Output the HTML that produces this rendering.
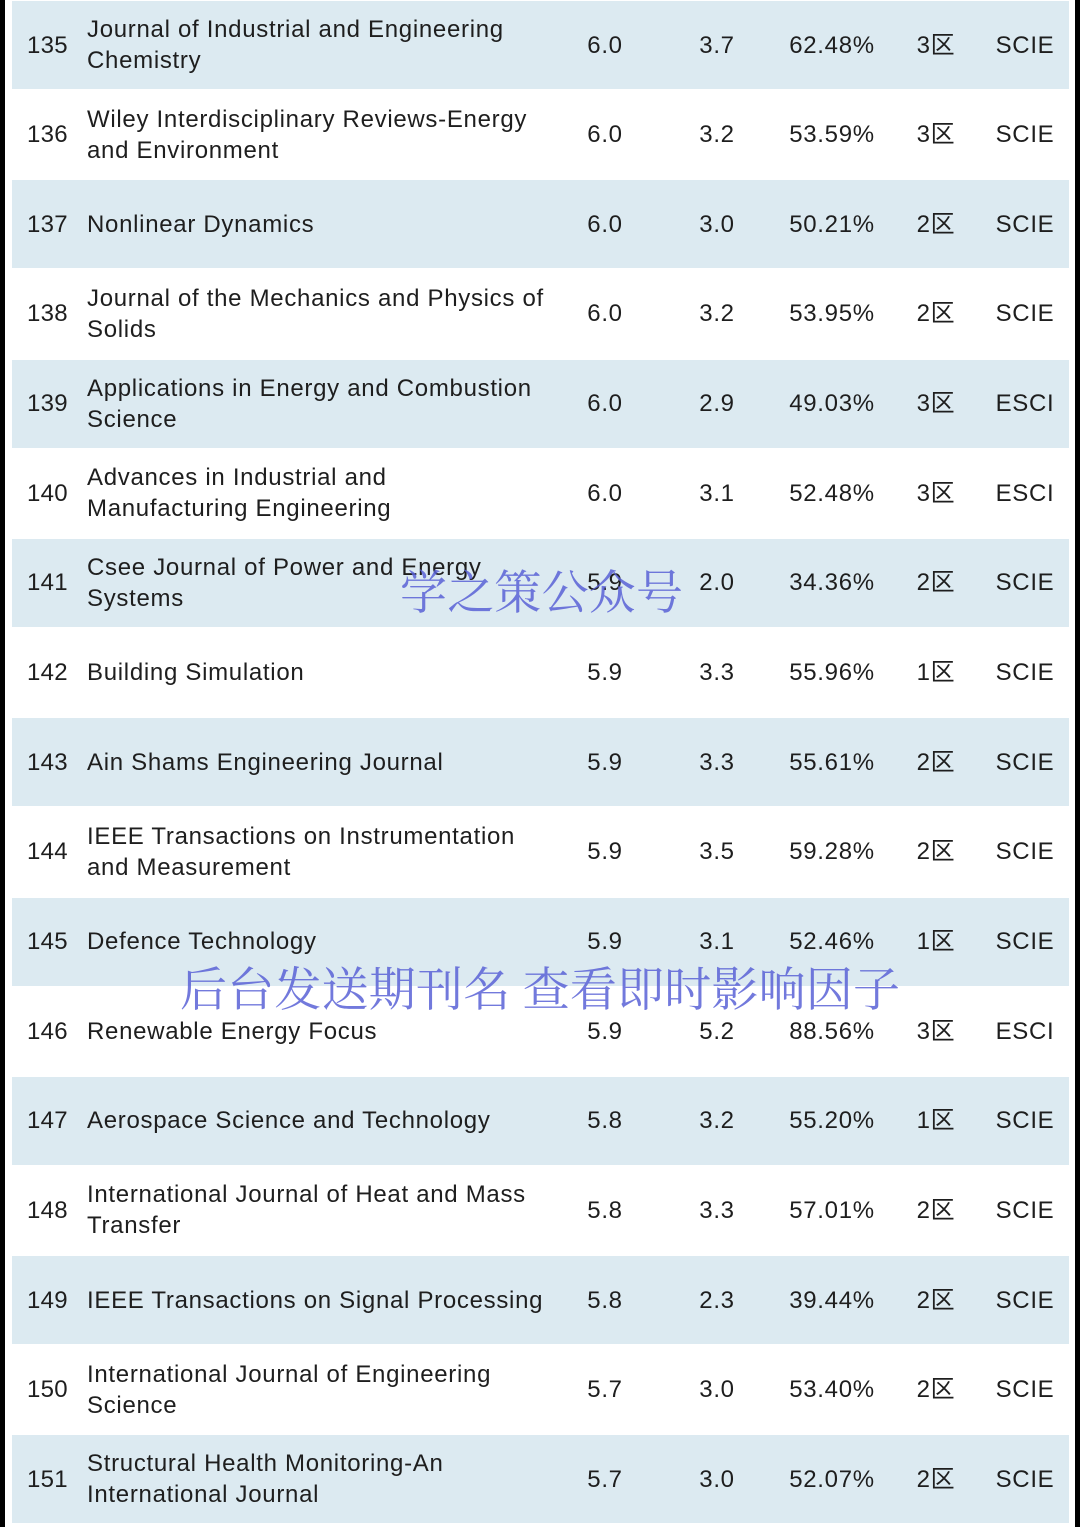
<!DOCTYPE html>
<html><head><meta charset="utf-8"><style>
body{margin:0;width:1080px;height:1527px;background:#fff;position:relative;overflow:hidden;font-family:"Liberation Sans","Noto Sans CJK SC",sans-serif;color:#1e1e1e}
.lb{position:absolute;left:0;top:0;width:5px;height:1527px;background:#000}
.rb{position:absolute;right:0;top:0;width:5px;height:1527px;background:#000}
.row{position:absolute;left:12px;width:1057px;height:88px}
.row.b{background:#dceaf1}
.c{position:absolute;top:0;height:88px;display:flex;align-items:center;font-size:24px;line-height:31px;letter-spacing:0.7px}
.n{left:15px;letter-spacing:0.3px}
.t{left:75px;width:490px}
.v{justify-content:center;width:100px}
.wm{position:absolute;font-family:"Noto Serif CJK SC",serif;color:#5a62d6;font-size:47px;opacity:0.85;white-space:nowrap;letter-spacing:0.2px}
</style></head><body>
<div class="lb"></div>
<div class="rb"></div>
<div id="tbl"></div>
<div class="wm" style="left:400px;top:556px">学之策公众号</div>
<div class="wm" style="left:180px;top:953px">后台发送期刊名 查看即时影响因子</div>
<script>
const nums=[135,136,137,138,139,140,141,142,143,144,145,146,147,148,149,150,151];
const titles=["Journal of Industrial and Engineering<br>Chemistry","Wiley Interdisciplinary Reviews-Energy<br>and Environment","Nonlinear Dynamics","Journal of the Mechanics and Physics of<br>Solids","Applications in Energy and Combustion<br>Science","Advances in Industrial and<br>Manufacturing Engineering","Csee Journal of Power and Energy<br>Systems","Building Simulation","Ain Shams Engineering Journal","IEEE Transactions on Instrumentation<br>and Measurement","Defence Technology","Renewable Energy Focus","Aerospace Science and Technology","International Journal of Heat and Mass<br>Transfer","IEEE Transactions on Signal Processing","International Journal of Engineering<br>Science","Structural Health Monitoring-An<br>International Journal"];
const ifs=["6.0","6.0","6.0","6.0","6.0","6.0","5.9","5.9","5.9","5.9","5.9","5.9","5.8","5.8","5.8","5.7","5.7"];
const avg=["3.7","3.2","3.0","3.2","2.9","3.1","2.0","3.3","3.3","3.5","3.1","5.2","3.2","3.3","2.3","3.0","3.0"];
const pct=["62.48%","53.59%","50.21%","53.95%","49.03%","52.48%","34.36%","55.96%","55.61%","59.28%","52.46%","88.56%","55.20%","57.01%","39.44%","53.40%","52.07%"];
const zone=["3区","3区","2区","2区","3区","3区","2区","1区","2区","2区","1区","3区","1区","2区","2区","2区","2区"];
const idx=["SCIE","SCIE","SCIE","SCIE","ESCI","ESCI","SCIE","SCIE","SCIE","SCIE","SCIE","ESCI","SCIE","SCIE","SCIE","SCIE","SCIE"];
const tbl=document.getElementById('tbl');
nums.forEach((n,i)=>{
 const r=document.createElement('div');
 r.className='row'+(i%2==0?' b':'');
 r.style.top=(1+i*89.65)+'px';
 
 
 const cells=[['c n',n,'rank'],['c t',titles[i],'journal-title'],['c v',ifs[i],'impact-factor'],['c v',avg[i],'five-year-if'],['c v',pct[i],'percentage'],['c v',zone[i],'zone'],['c v',idx[i],'index']];
 const lefts=[null,null,543,655,770,874,963];
 cells.forEach((c,j)=>{
  const d=document.createElement('div');
  d.className=c[0];d.innerHTML=c[1];
  if(lefts[j]!==null)d.style.left=lefts[j]+'px';
  
  
  r.appendChild(d);
 });
 tbl.appendChild(r);
});
</script>
</body></html>
